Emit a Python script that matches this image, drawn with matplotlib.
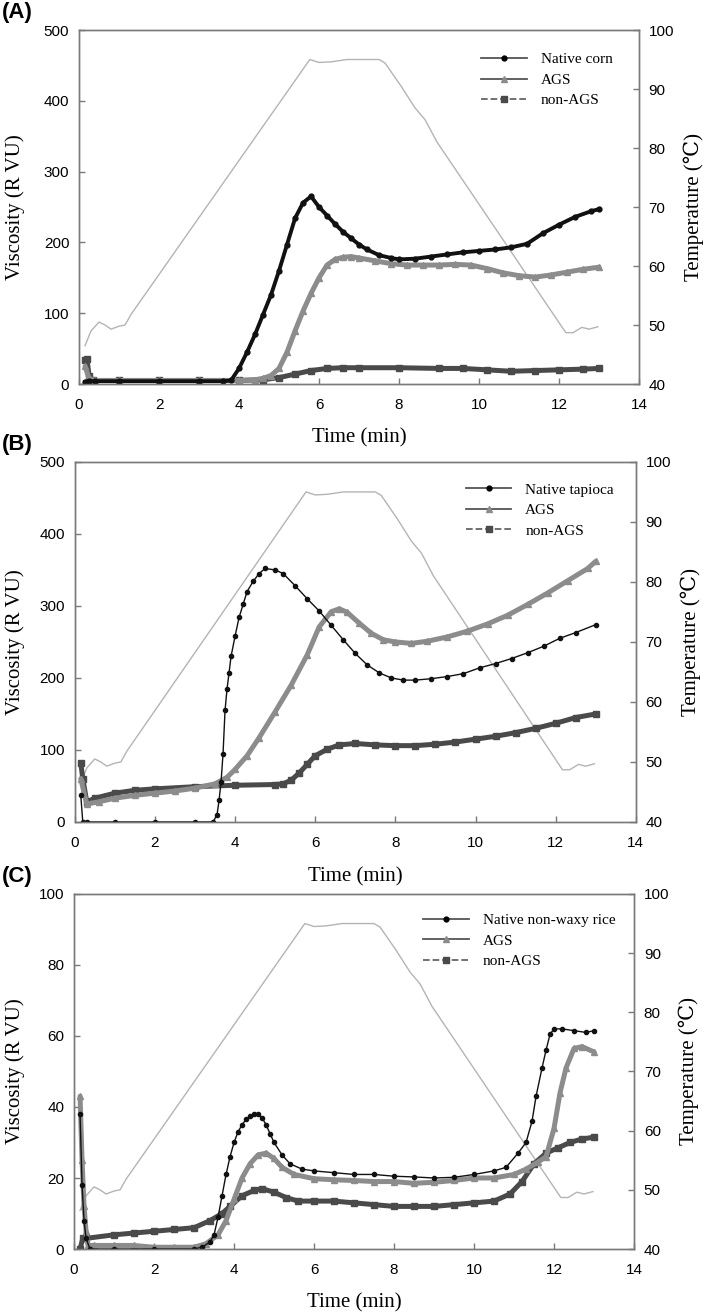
import matplotlib

matplotlib.use("Agg")
import matplotlib.pyplot as plt  # noqa: E402
from matplotlib.lines import Line2D  # noqa: E402

# ---- temperature profile (shared by the three panels) ----
TEMP_T = [0.15, 0.3, 0.5, 0.65, 0.8, 1.0, 1.15, 1.3, 5.77, 6.0, 6.3, 6.7, 7.5, 7.65,
          8.05, 8.4, 8.65, 8.95, 9.15, 12.17, 12.35, 12.57, 12.75, 12.97]
TEMP_V = [46.5, 49.0, 50.5, 50.0, 49.3, 49.8, 50.0, 51.8, 95.0, 94.5, 94.6, 95.0, 95.0, 94.4,
          90.5, 86.8, 84.8, 81.0, 79.0, 48.7, 48.7, 49.6, 49.3, 49.7]

# ---- (A) corn ----
CORN_NATIVE_T = [0.15, 0.25, 0.4, 1.0, 2.0, 3.0, 3.6, 3.8, 4.0, 4.2, 4.4, 4.6, 4.8, 5.0, 5.2,
                 5.4, 5.6, 5.8, 6.0, 6.2, 6.4, 6.6, 6.8, 7.0, 7.2, 7.5, 7.8, 8.0, 8.4, 8.8,
                 9.2, 9.6, 10.0, 10.4, 10.8, 11.2, 11.6, 12.0, 12.4, 12.8, 13.0]
CORN_NATIVE_V = [3, 4, 4, 4, 4, 4, 4, 5, 22, 45, 70, 98, 126, 160, 197,
                 234, 256, 265, 250, 238, 226, 215, 206, 197, 190, 182, 178, 176, 177, 180,
                 183, 186, 188, 190, 193, 198, 213, 225, 236, 244, 247]
CORN_AGS_T = [0.15, 0.25, 0.4, 1.0, 2.0, 3.0, 4.0, 4.4, 4.6, 4.8, 5.0, 5.2, 5.4, 5.6, 5.8,
              6.0, 6.2, 6.4, 6.6, 6.8, 7.0, 7.4, 7.8, 8.2, 8.6, 9.0, 9.4, 9.8, 10.2, 10.6,
              11.0, 11.4, 11.8, 12.2, 12.6, 13.0]
CORN_AGS_V = [25, 8, 5, 5, 5, 5, 5, 6, 8, 12, 22, 45, 75, 103, 128,
              150, 168, 176, 179, 180, 178, 174, 170, 168, 168, 168, 169, 168, 163, 157,
              153, 151, 154, 158, 162, 165]
CORN_NON_T = [0.15, 0.2, 0.25, 0.35, 1.0, 2.0, 3.0, 4.0, 4.6, 5.0, 5.4, 5.8, 6.2, 6.6, 7.0,
              8.0, 9.0, 9.6, 10.2, 10.8, 11.4, 12.0, 12.6, 13.0]
CORN_NON_V = [34, 35, 12, 5, 5, 5, 5, 5, 6, 9, 14, 19, 22, 23, 23,
              23, 22, 22, 20, 18, 19, 20, 21, 22]

# ---- (B) tapioca ----
TAP_NATIVE_T = [0.15, 0.2, 0.3, 1.0, 2.0, 3.0, 3.45, 3.55, 3.6, 3.65, 3.7, 3.75, 3.8, 3.85,
                3.9, 4.0, 4.1, 4.2, 4.3, 4.45, 4.6, 4.75, 5.0, 5.2, 5.5, 5.8, 6.1, 6.4, 6.7,
                7.0, 7.3, 7.6, 7.9, 8.2, 8.5, 8.9, 9.3, 9.7, 10.1, 10.5, 10.9, 11.3, 11.7,
                12.1, 12.5, 13.0]
TAP_NATIVE_V = [37, 0, 0, 0, 0, 0, 0, 10, 30, 55, 95, 155, 185, 207,
                230, 258, 284, 302, 320, 334, 345, 352, 350, 345, 328, 310, 293, 273, 253,
                234, 218, 207, 200, 197, 197, 199, 202, 206, 214, 220, 227, 235, 244,
                255, 263, 274]
TAP_AGS_T = [0.15, 0.3, 0.6, 1.0, 1.5, 2.0, 2.5, 3.0, 3.5, 3.8, 4.0, 4.3, 4.6, 5.0, 5.4,
             5.8, 6.1, 6.4, 6.6, 6.8, 7.1, 7.4, 7.7, 8.0, 8.4, 8.8, 9.3, 9.8, 10.3, 10.8,
             11.3, 11.8, 12.3, 12.8, 13.0]
TAP_AGS_V = [60, 25, 28, 33, 37, 40, 43, 47, 53, 62, 73, 92, 117, 153, 190,
             232, 271, 292, 296, 291, 276, 262, 253, 250, 248, 251, 257, 265, 275, 287,
             302, 318, 335, 352, 362]
TAP_NON_T = [0.15, 0.2, 0.3, 0.5, 1.0, 1.5, 2.0, 3.0, 4.0, 5.0, 5.2, 5.4, 5.6, 5.8, 6.0,
             6.3, 6.6, 7.0, 7.5, 8.0, 8.5, 9.0, 9.5, 10.0, 10.5, 11.0, 11.5, 12.0, 12.5, 13.0]
TAP_NON_V = [82, 60, 28, 33, 40, 44, 46, 49, 51, 52, 53, 58, 68, 80, 92,
             101, 107, 109, 107, 106, 106, 108, 111, 115, 119, 124, 130, 137, 145, 150]

# ---- (C) non-waxy rice ----
RICE_NATIVE_T = [0.15, 0.2, 0.25, 0.3, 0.4, 1.0, 2.0, 3.0, 3.2, 3.4, 3.5, 3.6, 3.7, 3.8, 3.9,
                 4.0, 4.1, 4.2, 4.3, 4.4, 4.5, 4.6, 4.7, 4.8, 4.9, 5.0, 5.2, 5.4, 5.7, 6.0,
                 6.5, 7.0, 7.5, 8.0, 8.5, 9.0, 9.5, 10.0, 10.5, 10.8, 11.1, 11.3, 11.45,
                 11.55, 11.7, 11.8, 11.9, 12.0, 12.2, 12.5, 12.8, 13.0]
RICE_NATIVE_V = [38, 18, 8, 3, 0, 0, 0, 0, 0.5, 2, 4, 9, 15, 21, 26,
                 30, 33, 35, 36.5, 37.5, 38, 38, 37, 35, 32.5, 30, 26.5, 24, 22.5, 22,
                 21.5, 21, 21, 20.5, 20.3, 20, 20.2, 21, 22, 23, 27, 30, 36,
                 43, 51, 56, 60.5, 62, 62, 61.5, 61, 61.5]
RICE_AGS_T = [0.15, 0.2, 0.25, 0.3, 0.35, 0.5, 1.0, 1.5, 2.0, 2.5, 3.0, 3.3, 3.6, 3.8, 4.0,
              4.2, 4.4, 4.6, 4.8, 5.0, 5.2, 5.5, 6.0, 6.5, 7.0, 7.5, 8.0, 8.5, 9.0, 9.5,
              10.0, 10.5, 11.0, 11.3, 11.6, 11.8, 12.0, 12.15, 12.3, 12.5, 12.7, 13.0]
RICE_AGS_V = [43, 25, 12, 5, 1, 1, 1, 1, 0.5, 0.5, 0.5, 1.5, 4, 8, 14,
              20, 24, 26.5, 27, 25.5, 23, 21, 19.8, 19.5, 19.3, 19, 19, 18.5, 18.8, 19.3,
              20, 20, 21, 22.5, 24.5, 26, 34, 44, 51, 56.5, 57, 55.5]
RICE_NON_T = [0.15, 0.22, 0.3, 1.0, 1.5, 2.0, 2.5, 3.0, 3.4, 3.7, 3.9, 4.2, 4.5, 4.7, 5.0,
              5.3, 5.6, 6.0, 6.5, 7.0, 7.5, 8.0, 8.5, 9.0, 9.5, 10.0, 10.5, 10.9, 11.2,
              11.5, 11.8, 12.1, 12.4, 12.7, 13.0]
RICE_NON_V = [0, 3, 3, 4, 4.5, 5, 5.5, 6, 8, 10, 12, 15, 16.5, 17, 16,
              14.5, 13.5, 13.5, 13.5, 13, 12.5, 12, 12, 12, 12.5, 13, 13.5, 15.5, 19,
              24, 27, 28.5, 30, 31, 31.5]

C_NATIVE, C_AGS, C_NON, C_TEMP, C_SPINE = "#111111", "#8c8c8c", "#4a4a4a", "#b4b4b4", "#7a7a7a"
SERIF = ["Liberation Serif", "DejaVu Serif"]
SANS = ["Liberation Sans", "DejaVu Sans"]

PANELS = [
    # letter, axes rect, ylim, ystep, native label, series, thick native, legend anchor, ylabel x
    ("(A)", [0.111, 0.7082, 0.7865, 0.269], 500, 100, "Native corn",
     (CORN_NATIVE_T, CORN_NATIVE_V, CORN_AGS_T, CORN_AGS_V, CORN_NON_T, CORN_NON_V),
     True, (0.676, 0.960), -0.096),
    ("(B)", [0.105, 0.3754, 0.788, 0.2736], 500, 100, "Native tapioca",
     (TAP_NATIVE_T, TAP_NATIVE_V, TAP_AGS_T, TAP_AGS_V, TAP_NON_T, TAP_NON_V),
     False, (0.654, 0.633), -0.089),
    ("(C)", [0.104, 0.0509, 0.7865, 0.2698], 100, 20, "Native non-waxy rice",
     (RICE_NATIVE_T, RICE_NATIVE_V, RICE_AGS_T, RICE_AGS_V, RICE_NON_T, RICE_NON_V),
     False, (0.594, 0.306), -0.0875),
]

fig = plt.figure(figsize=(7.12, 13.16), dpi=100)

for letter, rect, ymax, ystep, nat_label, series, thick, leg_xy, ylab_x in PANELS:
    nt, nv, at, av, st, sv = series
    ax = fig.add_axes(rect)
    tw = ax.twinx()
    ax.set_zorder(tw.get_zorder() + 1)
    ax.patch.set_visible(False)

    tw.plot(TEMP_T, TEMP_V, color=C_TEMP, lw=1.0)
    tw.set_ylim(40, 100)
    tw.set_yticks(range(40, 101, 10))

    ax.plot(st, sv, color=C_NON, lw=3.6, marker="s", ms=4, mfc=C_NON, mec=C_NON,
            solid_capstyle="round")
    ax.plot(at, av, color=C_AGS, lw=3.6, marker="^", ms=4.5, mfc=C_AGS, mec=C_AGS,
            solid_capstyle="round")
    if thick:
        ax.plot(nt, nv, color=C_NATIVE, lw=2.8, marker="o", ms=3.5, mfc=C_NATIVE,
                mec=C_NATIVE)
    else:
        ax.plot(nt, nv, color=C_NATIVE, lw=1.0, marker="o", ms=3, mfc=C_NATIVE,
                mec=C_NATIVE)

    ax.set_xlim(0, 14)
    ax.set_xticks(range(0, 15, 2))
    ax.set_ylim(0, ymax)
    ax.set_yticks(range(0, ymax + 1, ystep))

    for a in (ax, tw):
        for sp in a.spines.values():
            sp.set_color(C_SPINE)
            sp.set_linewidth(1.0)
        a.tick_params(direction="in", length=4, width=1, color=C_SPINE,
                      labelsize=11)
        for lab in a.get_xticklabels() + a.get_yticklabels():
            lab.set_family(SANS)
    ax.tick_params(axis="x", pad=10)
    ax.tick_params(axis="y", pad=7)
    tw.tick_params(axis="y", pad=7)

    ax.set_xlabel("Time (min)", family=SERIF, fontsize=15)
    ax.set_ylabel("Viscosity (R VU)", family=SERIF, fontsize=15)
    tw.set_ylabel("Temperature (\u2103)", family=SERIF, fontsize=15)
    ax.xaxis.set_label_coords(0.5, -0.125)
    ax.yaxis.set_label_coords(ylab_x, 0.5)
    tw.yaxis.set_label_coords(1.08, 0.5)

    handles = [
        Line2D([], [], color="#555555", lw=1.3, marker="o", ms=3.5, mfc="black", mec="black"),
        Line2D([], [], color="#555555", lw=1.3, marker="^", ms=4.5, mfc=C_AGS, mec=C_AGS),
        Line2D([], [], color="#666666", lw=1.3, ls="--", marker="s", ms=4.5, mfc=C_NON,
               mec=C_NON),
    ]
    ax.legend(handles, [nat_label, "AGS", "non-AGS"], loc="upper left",
              bbox_to_anchor=leg_xy, bbox_transform=fig.transFigure, frameon=False,
              prop={"family": SERIF, "size": 11}, handlelength=3.0, handletextpad=0.9,
              labelspacing=0.45, borderpad=0, borderaxespad=0)

    top = rect[1] + rect[3]
    fig.text(0.003, top + 0.0215, letter, family=SANS, fontsize=16, fontweight="bold",
             va="top", ha="left")

fig.savefig("out.png", dpi=100)
